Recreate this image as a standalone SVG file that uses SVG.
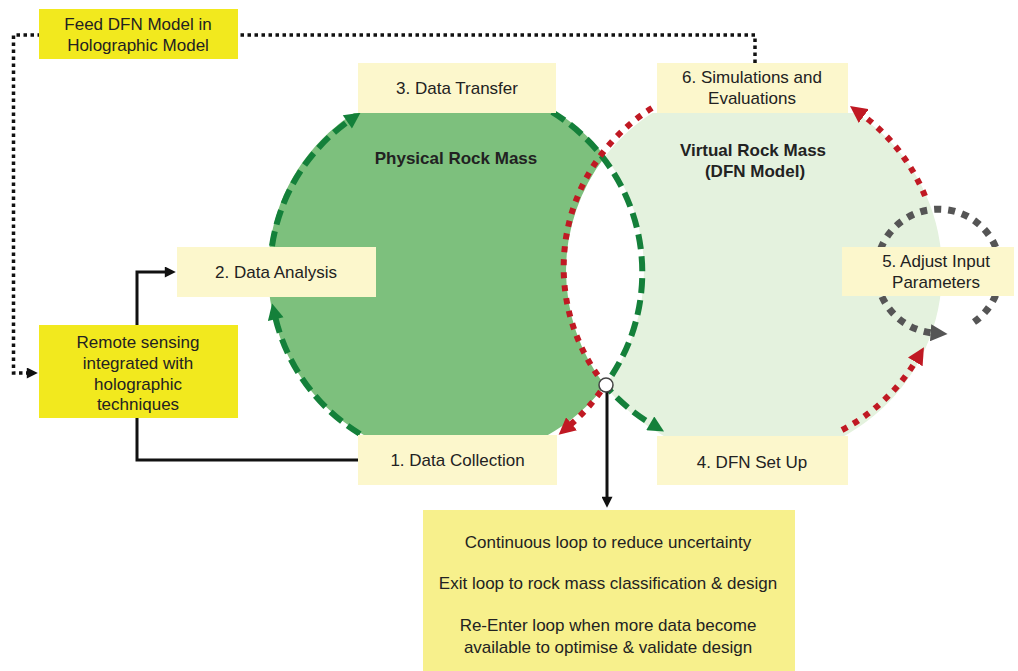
<svg xmlns="http://www.w3.org/2000/svg" width="1018" height="671" viewBox="0 0 1018 671">
  <style>
    text { font-family: "Liberation Sans", Arial, sans-serif; font-size: 17px; fill: #222; text-anchor: middle; }
    .bold { font-weight: bold; }
    .pale { fill: #fcf7cc; }
    .bright { fill: #f2e91e; }
    .note { fill: #f7f08c; }
    .green { fill: none; stroke: #14803a; stroke-width: 6; stroke-dasharray: 15 7; }
    .red { fill: none; stroke: #c01923; stroke-width: 6; stroke-dasharray: 6 7; }
    .gray { fill: none; stroke: #555; stroke-width: 7; stroke-dasharray: 7 7; }
    .solid { fill: none; stroke: #111; stroke-width: 3; }
    .dotted { fill: none; stroke: #111; stroke-width: 3.5; stroke-dasharray: 3.5 3.5; }
  </style>
  <defs>
    <clipPath id="band"><rect x="0" y="113" width="1018" height="323"/></clipPath>
    <marker id="ah-green" viewBox="0 0 10 10" refX="2" refY="5" markerWidth="17" markerHeight="16" markerUnits="userSpaceOnUse" orient="auto">
      <path d="M0,0 L10,5 L0,10 z" fill="#14803a"/>
    </marker>
    <marker id="ah-red" viewBox="0 0 10 10" refX="2" refY="5" markerWidth="17" markerHeight="17" markerUnits="userSpaceOnUse" orient="auto">
      <path d="M0,0 L10,5 L0,10 z" fill="#c01923"/>
    </marker>
    <marker id="ah-gray" viewBox="0 0 10 10" refX="2" refY="5" markerWidth="17" markerHeight="17" markerUnits="userSpaceOnUse" orient="auto">
      <path d="M0,0 L10,5 L0,10 z" fill="#555"/>
    </marker>
    <marker id="ah-black" viewBox="0 0 10 10" refX="2" refY="5" markerWidth="12" markerHeight="11" markerUnits="userSpaceOnUse" orient="auto">
      <path d="M0,0 L10,5 L0,10 z" fill="#111"/>
    </marker>
  </defs>

  <rect width="1018" height="671" fill="#fff"/>

  <!-- the two overlapping rock-mass discs; the shared lens stays white -->
  <g id="rock-masses" clip-path="url(#band)">
    <path id="physical-fill" d="M605,156.4 A188,188 0 1 0 605,385.6 A188,188 0 0 1 605,156.4 Z" fill="#7dc07d"/>
    <path id="virtual-fill" d="M605,156.4 A188,188 0 1 1 605,385.6 A188,188 0 0 0 605,156.4 Z" fill="#e4f2de"/>
  </g>

  <g id="connectors">
    <!-- physical loop (green dashed) -->
    <path class="green" d="M360,434 A188,188 0 0 1 275,316" marker-end="url(#ah-green)"/>
    <path class="green" d="M272,246 A188,188 0 0 1 350,120" marker-end="url(#ah-green)"/>
    <path class="green" d="M552,112 A188,188 0 0 1 605,385 A188,188 0 0 0 653,425" marker-end="url(#ah-green)"/>
    <!-- virtual loop (red dotted) -->
    <path class="red" d="M842,430 A188,188 0 0 0 917,359" marker-end="url(#ah-red)"/>
    <path class="red" d="M925,196 A188,188 0 0 0 861,114" marker-end="url(#ah-red)"/>
    <path class="red" d="M652,108 A188,188 0 0 0 605,385 A188,188 0 0 1 569,426" marker-end="url(#ah-red)"/>
    <!-- parameter adjustment loop -->
    <path class="gray" d="M974,322 A62,62 0 1 0 934,333" marker-end="url(#ah-gray)"/>
    <!-- data collection to remote sensing to analysis -->
    <path class="solid" d="M358,460 H137 V272 H167" marker-end="url(#ah-black)"/>
    <!-- feedback into holographic model -->
    <path class="dotted" d="M755,63 V35 H13.5 V373 H29" marker-end="url(#ah-black)"/>
    <!-- exit from loop -->
    <path class="solid" d="M607,392 V499" marker-end="url(#ah-black)"/>
    <circle cx="606" cy="385" r="7" fill="#fff" stroke="#444" stroke-width="1.5"/>
  </g>

  <g id="feed-dfn">
    <rect class="bright" x="39" y="9" width="199" height="50"/>
    <text x="138" y="29.5">Feed DFN Model in</text>
    <text x="138" y="51">Holographic Model</text>
  </g>

  <g id="data-transfer">
    <rect class="pale" x="358" y="63" width="198" height="50"/>
    <text x="457" y="94">3. Data Transfer</text>
  </g>

  <g id="simulations">
    <rect class="pale" x="657" y="63" width="191" height="50"/>
    <text x="752" y="83">6. Simulations and</text>
    <text x="752" y="104">Evaluations</text>
  </g>

  <g id="physical-label">
    <text class="bold" x="456" y="164">Physical Rock Mass</text>
  </g>

  <g id="virtual-label">
    <text class="bold" x="753" y="156">Virtual Rock Mass</text>
    <text class="bold" x="755" y="177">(DFN Model)</text>
  </g>

  <g id="data-analysis">
    <rect class="pale" x="177" y="247" width="199" height="50"/>
    <text x="276" y="278">2. Data Analysis</text>
  </g>

  <g id="adjust-input">
    <rect class="pale" x="842" y="247" width="172" height="49"/>
    <text x="936" y="267">5. Adjust Input</text>
    <text x="936" y="288">Parameters</text>
  </g>

  <g id="remote-sensing">
    <rect class="bright" x="39" y="325" width="199" height="93"/>
    <text x="138" y="348">Remote sensing</text>
    <text x="138" y="369">integrated with</text>
    <text x="138" y="389.5">holographic</text>
    <text x="138" y="410">techniques</text>
  </g>

  <g id="data-collection">
    <rect class="pale" x="358" y="435" width="199" height="50"/>
    <text x="457.5" y="466">1. Data Collection</text>
  </g>

  <g id="dfn-setup">
    <rect class="pale" x="657" y="436" width="191" height="49"/>
    <text x="752" y="467.5">4. DFN Set Up</text>
  </g>

  <g id="loop-notes">
    <rect class="note" x="423" y="510" width="372" height="161"/>
    <text x="608" y="548">Continuous loop to reduce uncertainty</text>
    <text x="608" y="589">Exit loop to rock mass classification &amp; design</text>
    <text x="608" y="631">Re-Enter loop when more data become</text>
    <text x="608" y="653">available to optimise &amp; validate design</text>
  </g>
</svg>
